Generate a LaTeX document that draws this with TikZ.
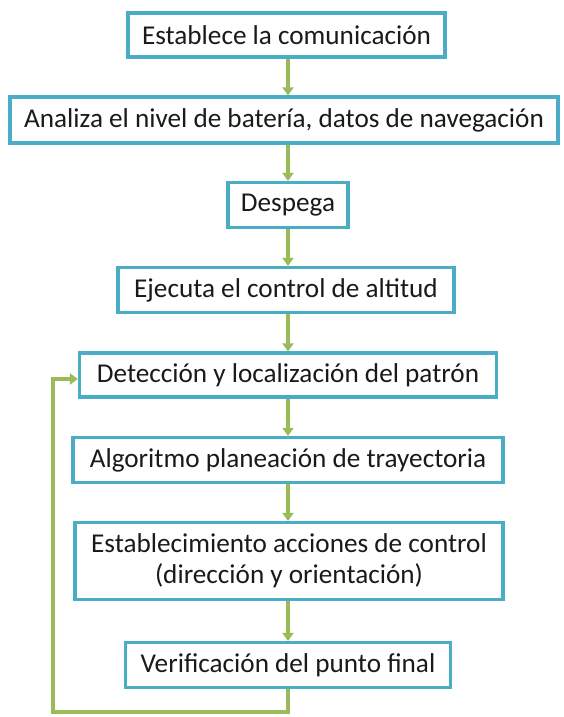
\documentclass[tikz,border=0pt]{standalone}
\usepackage{fontspec}
\setmainfont{Carlito}
\usetikzlibrary{arrows.meta}
\definecolor{boxblue}{HTML}{4BACC6}
\definecolor{arrgreen}{HTML}{9BBB59}
\definecolor{txt}{HTML}{1A1A1A}
\tikzset{
  stepbox/.style={draw=boxblue, line width=3.2pt, fill=white, text=txt, inner sep=0pt,
    font=\fontsize{27.2}{31}\selectfont, align=center, anchor=center},
  arr/.style={draw=arrgreen, line width=3.4pt, -{Triangle[width=11pt,length=8pt]}},
}
\begin{document}
\begin{tikzpicture}[x=1pt,y=-1pt]
\useasboundingbox (0,0) rectangle (564,717);
\node[stepbox, minimum width=317pt, minimum height=44pt] (b1) at (286.5,35) {Establece la comunicación};
\node[stepbox, minimum width=548pt, minimum height=46pt] (b2) at (284,120) {Analiza el nivel de batería, datos de navegación};
\node[stepbox, minimum width=120pt, minimum height=45pt] (b3) at (288,205) {Despega};
\node[stepbox, minimum width=336pt, minimum height=45pt] (b4) at (286,290) {Ejecuta el control de altitud};
\node[stepbox, minimum width=417pt, minimum height=44pt] (b5) at (288,375) {Detección y localización del patrón};
\node[stepbox, minimum width=430pt, minimum height=45pt] (b6) at (288,460) {Algoritmo planeación de trayectoria};
\node[stepbox, minimum width=428pt, minimum height=77pt] (b7) at (289,561) {Establecimiento acciones de control\\(dirección y orientación)};
\node[stepbox, minimum width=325pt, minimum height=45pt] (b8) at (288,665) {Verificación del punto final};
\coordinate (ax) at (288,0);
\coordinate (lp) at (53,712);
\draw[arr] (b1.south -| ax) -- (b2.north -| ax);
\draw[arr] (b2.south -| ax) -- (b3.north -| ax);
\draw[arr] (b3.south -| ax) -- (b4.north -| ax);
\draw[arr] (b4.south -| ax) -- (b5.north -| ax);
\draw[arr] (b5.south -| ax) -- (b6.north -| ax);
\draw[arr] (b6.south -| ax) -- (b7.north -| ax);
\draw[arr] (b7.south -| ax) -- (b8.north -| ax);
\draw[arr] (b8.south -| ax) |- (lp) |- ([yshift=-4pt]b5.west);
\end{tikzpicture}
\end{document}
